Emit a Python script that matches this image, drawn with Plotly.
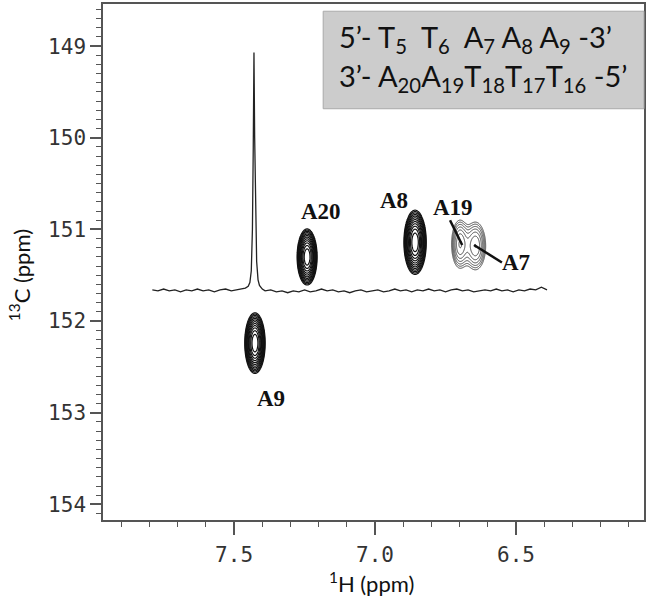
import numpy as np
import plotly.graph_objects as go

# =============================================================================
# 1D 1H trace drawn across the 2D map (x = 1H ppm, y = drawn on the 13C scale)
# =============================================================================
spec_x = [7.79, 7.77, 7.75, 7.73, 7.71, 7.69, 7.67, 7.65, 7.63, 7.61, 7.59, 7.57,
          7.55, 7.53, 7.51, 7.49, 7.47,
          7.46, 7.45, 7.444, 7.439, 7.435, 7.432, 7.4295, 7.427, 7.424, 7.42, 7.415,
          7.41, 7.40,
          7.39, 7.37, 7.35, 7.33, 7.31, 7.29, 7.27, 7.25, 7.23, 7.21,
          7.19, 7.17, 7.15, 7.13, 7.11, 7.09, 7.07, 7.05, 7.03, 7.01,
          6.99, 6.97, 6.95, 6.93, 6.91, 6.89, 6.87, 6.85, 6.83, 6.81,
          6.79, 6.77, 6.75, 6.73, 6.71, 6.69, 6.67, 6.65, 6.63, 6.61,
          6.59, 6.57, 6.55, 6.53, 6.51, 6.49, 6.47, 6.45, 6.43, 6.41, 6.39]
spec_y = [151.66, 151.67, 151.65, 151.67, 151.66, 151.68, 151.66, 151.67, 151.65,
          151.67, 151.66, 151.68, 151.66, 151.65, 151.67, 151.66, 151.65,
          151.64, 151.62, 151.58, 151.45, 151.0, 150.1, 149.07, 150.0, 150.9,
          151.35, 151.55, 151.61, 151.65,
          151.67, 151.66, 151.68, 151.67, 151.69, 151.67, 151.68, 151.66, 151.68, 151.67,
          151.65, 151.67, 151.66, 151.68, 151.67, 151.69, 151.67, 151.66, 151.68, 151.67,
          151.66, 151.68, 151.67, 151.65, 151.67, 151.66, 151.68, 151.66, 151.67, 151.65,
          151.67, 151.66, 151.68, 151.66, 151.65, 151.67, 151.66, 151.68, 151.67, 151.66,
          151.67, 151.65, 151.67, 151.66, 151.68, 151.66, 151.67, 151.65, 151.66, 151.63,
          151.66]

# =============================================================================
# Cross peaks: centre (1H, 13C), spread, log intensity
# =============================================================================
peak_names = ["A9", "A20", "A8", "A19", "A7"]
peak_h = [7.426, 7.241, 6.858, 6.699, 6.644]
peak_c = [152.24, 151.30, 151.14, 151.16, 151.18]
peak_sig_h = [0.0148, 0.0145, 0.0162, 0.017, 0.021]
peak_sig_c = [0.135, 0.125, 0.143, 0.15, 0.15]
peak_logamp = [0.0, 0.0, 0.0, -1.5, -1.5]

# label positions (1H, 13C)
label_h = [7.369, 7.191, 6.933, 6.723, 6.50]
label_c = [152.84, 150.80, 150.68, 150.76, 151.36]

sequence_top = "5’- T<sub>5</sub>\u00a0 T<sub>6</sub>\u00a0 A<sub>7</sub> A<sub>8</sub> A<sub>9</sub> -3’"
sequence_bottom = "3’- A<sub>20</sub>A<sub>19</sub>T<sub>18</sub>T<sub>17</sub>T<sub>16</sub> -5’"


def peak_map(idx):
    # log of summed gaussians on a local grid around the given peaks
    hs = [peak_h[i] for i in idx]
    cs = [peak_c[i] for i in idx]
    gh = np.linspace(min(hs) - 0.08, max(hs) + 0.08, 140)
    gc = np.linspace(min(cs) - 0.45, max(cs) + 0.45, 200)
    H, C = np.meshgrid(gh, gc)
    z = np.zeros_like(H)
    for i in idx:
        z += np.exp(peak_logamp[i]) * np.exp(
            -((H - peak_h[i]) ** 2) / (2 * peak_sig_h[i] ** 2)
            - ((C - peak_c[i]) ** 2) / (2 * peak_sig_c[i] ** 2))
    return gh, gc, np.round(np.log(z + 1e-12), 3)


fig = go.Figure()

fig.add_trace(go.Scatter(x=spec_x, y=spec_y, mode="lines",
                         line=dict(color="#222222", width=1.3),
                         hoverinfo="skip", showlegend=False))

for group, colour, lw in [([0], "#111111", 1.2), ([1], "#111111", 1.2),
                          ([2], "#111111", 1.2), ([3, 4], "#444444", 1)]:
    gh, gc, z = peak_map(group)
    fig.add_trace(go.Contour(
        x=gh, y=gc, z=z,
        contours=dict(start=-3, end=-0.05, size=0.25, coloring="none"),
        line=dict(color=colour, width=lw),
        showscale=False, hoverinfo="skip"))

for name, lh, lc in zip(peak_names, label_h, label_c):
    fig.add_annotation(x=lh, y=lc, text="<b>" + name + "</b>", showarrow=False,
                       font=dict(family="Liberation Serif", size=23, color="#111111"))

# leader lines for the overlapping A19 / A7 pair
fig.add_shape(type="line", x0=6.734, y0=150.90, x1=6.691, y1=151.17,
              line=dict(color="#111111", width=2.5))
fig.add_shape(type="line", x0=6.649, y0=151.17, x1=6.55, y1=151.36,
              line=dict(color="#111111", width=2.5))

# sequence box
fig.add_shape(type="rect", xref="paper", yref="paper", x0=0.407, x1=1.0, y0=0.797, y1=0.986,
              fillcolor="#cccccc", line=dict(color="#a9a9a9", width=1))
fig.add_annotation(xref="paper", yref="paper", x=0.4325, y=0.934, text=sequence_top,
                   showarrow=False, xanchor="left", yanchor="middle",
                   font=dict(family="Lato", size=29, color="#111111"))
fig.add_annotation(xref="paper", yref="paper", x=0.4325, y=0.857, text=sequence_bottom,
                   showarrow=False, xanchor="left", yanchor="middle",
                   font=dict(family="Lato", size=29, color="#111111"))

# axis titles
fig.add_annotation(xref="paper", yref="paper", x=0.497, y=-0.122, text="<sup>1</sup>H (ppm)",
                   showarrow=False, xanchor="center", yanchor="middle",
                   font=dict(family="Lato", size=22, color="#111111"))
fig.add_annotation(xref="paper", yref="paper", x=-0.153, y=0.475, text="<sup>13</sup>C (ppm)",
                   showarrow=False, textangle=-90, xanchor="center", yanchor="middle",
                   font=dict(family="Lato", size=22, color="#111111"))

tick_font = dict(family="DejaVu Sans Mono", size=21, color="#333333")
fig.update_xaxes(range=[7.965, 6.046], tickvals=[7.5, 7.0, 6.5], ticktext=["7.5", "7.0", "6.5"],
                 ticks="outside", ticklen=13, tickwidth=1.5, tickcolor="#555555",
                 minor=dict(dtick=0.1, tick0=7.5, ticks="outside", ticklen=5, tickwidth=1.2,
                            tickcolor="#555555"),
                 showline=True, linecolor="#555555", linewidth=1.5, mirror=True,
                 showgrid=False, zeroline=False, tickfont=tick_font, ticklabelstandoff=2,
                 automargin=False)
fig.update_yaxes(range=[154.17, 148.54], tickvals=[149, 150, 151, 152, 153, 154],
                 ticks="outside", ticklen=11, tickwidth=1.5, tickcolor="#555555",
                 minor=dict(dtick=0.1, tick0=149, ticks="outside", ticklen=5, tickwidth=1.2,
                            tickcolor="#555555"),
                 showline=True, linecolor="#555555", linewidth=1.5, mirror=True,
                 showgrid=False, zeroline=False, tickfont=tick_font, automargin=False)

fig.update_layout(width=648, height=606, margin=dict(l=103, r=4, t=4, b=86),
                  paper_bgcolor="white", plot_bgcolor="white", showlegend=False)

# the page's default body margin would push the figure off its 648x606 window
fig.write_html("out.html", config={"displayModeBar": False},
               post_script="document.body.style.margin='0';")
